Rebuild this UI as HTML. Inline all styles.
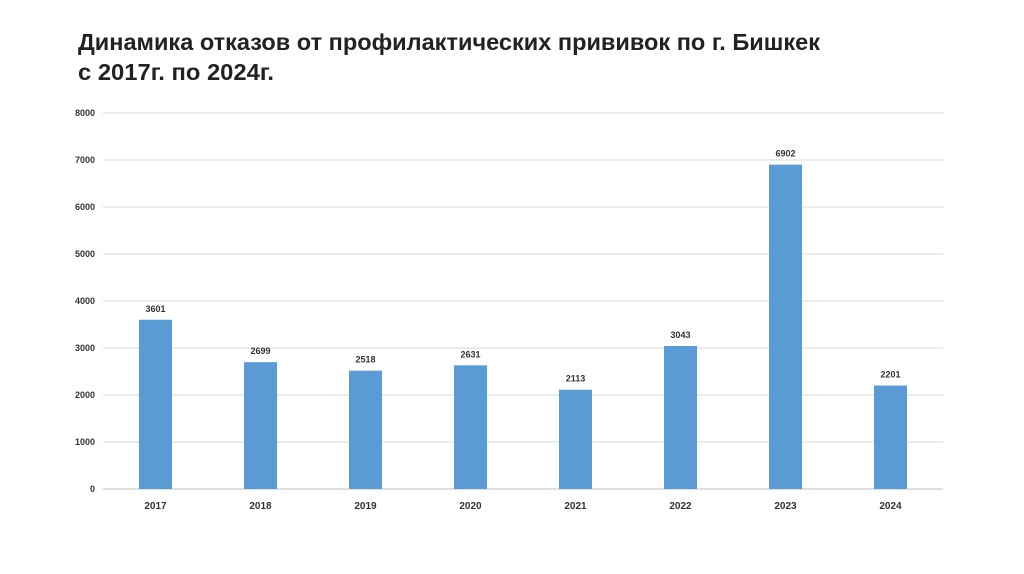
<!DOCTYPE html>
<html><head><meta charset="utf-8"><style>
html,body{margin:0;padding:0;background:#fff;}
svg{display:block;font-family:"Liberation Sans",sans-serif;}
</style></head><body>
<svg id="chart" width="1024" height="574" viewBox="0 0 1024 574">
<text x="78" y="50" font-size="23" font-weight="bold" fill="#222" textLength="742" lengthAdjust="spacingAndGlyphs">Динамика отказов от профилактических прививок по г. Бишкек</text>
<text x="78" y="80" font-size="23" font-weight="bold" fill="#222" textLength="196" lengthAdjust="spacingAndGlyphs">с 2017г. по 2024г.</text>
<g id="grid"></g><g id="bars"></g><g id="labels"></g>
</svg>
<script>
const categories=["2017","2018","2019","2020","2021","2022","2023","2024"];
const values=[3601,2699,2518,2631,2113,3043,6902,2201];
const yTicks=[0,1000,2000,3000,4000,5000,6000,7000,8000];
const NS="http://www.w3.org/2000/svg";
const x0=103,x1=943,y0=489,y1=113,yMax=8000;
const band=(x1-x0)/categories.length,bw=33;
function y(v){return y0-(v/yMax)*(y0-y1);}
function xc(i){return x0+band*(i+0.5);}
function mk(t,a,p){const e=document.createElementNS(NS,t);for(const k in a)e.setAttribute(k,a[k]);p.appendChild(e);return e;}
const g=document.getElementById('grid'),b=document.getElementById('bars'),l=document.getElementById('labels');
yTicks.forEach(v=>{
 const ln=mk('line',{x1:x0,x2:x1,y1:y(v),y2:y(v),stroke:v===0?'#bfbfbf':'#d9d9d9','stroke-width':1},g);
 
 
 const t=mk('text',{x:95,y:y(v)+3,'font-size':9,'font-weight':'bold','text-anchor':'end',fill:'#333'},g);
 t.textContent=v;
 
 
});
categories.forEach((c,i)=>{
 const r=mk('rect',{x:xc(i)-bw/2,y:y(values[i]),width:bw,height:y0-y(values[i]),fill:'#5b9bd5'},b);
 
 
 const t=mk('text',{x:xc(i),y:y(values[i])-8,'font-size':9,'font-weight':'bold','text-anchor':'middle',fill:'#333'},l);
 t.textContent=values[i];
 
 
 const xt=mk('text',{x:xc(i),y:509,'font-size':10,'font-weight':'bold','text-anchor':'middle',fill:'#333'},l);
 xt.textContent=c;
 
 
});
</script>
</body></html>
